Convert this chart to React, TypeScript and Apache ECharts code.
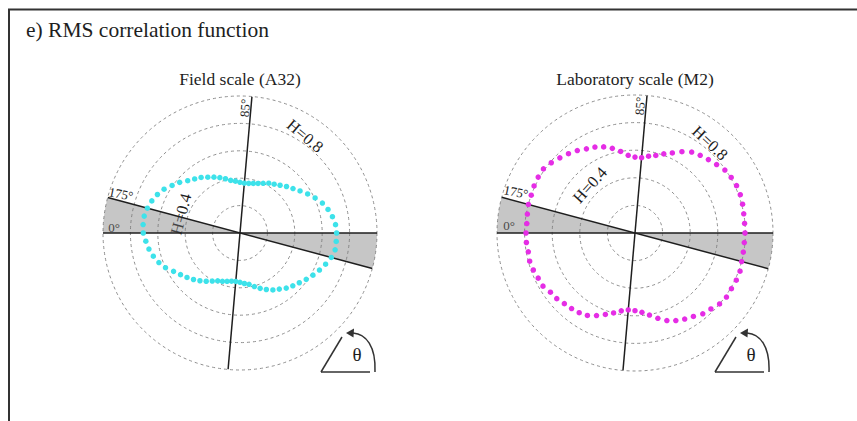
import React, { useEffect, useRef } from "react";
import * as echarts from "echarts";

// ---- data ----
const TITLE = "e) RMS correlation function";
const PANEL_TITLES = ["Field scale (A32)", "Laboratory scale (M2)"];

// direction theta (deg, counter-clockwise from the right)
const ANGLES = [
  0, 5, 10, 15, 20, 25, 30, 35, 40, 45, 50, 55, 60, 65, 70, 75, 80, 85,
  90, 95, 100, 105, 110, 115, 120, 125, 130, 135, 140, 145, 150, 155, 160, 165,
  170, 175, 180, 185, 190, 195, 200, 205, 210, 215, 220, 225, 230, 235, 240, 245,
  250, 255, 260, 265, 270, 275, 280, 285, 290, 295, 300, 305, 310, 315, 320, 325,
  330, 335, 340, 345, 350, 355,
];

// Hurst exponent H(theta), field scale (A32)
const FIELD_H = [
  0.705, 0.70, 0.685, 0.665, 0.64, 0.605, 0.57, 0.535, 0.505, 0.48, 0.455, 0.435,
  0.42, 0.40, 0.385, 0.375, 0.368, 0.365, 0.37, 0.38, 0.39, 0.41, 0.43, 0.45,
  0.47, 0.495, 0.515, 0.54, 0.575, 0.605, 0.64, 0.665, 0.685, 0.70, 0.71, 0.71,
  0.706, 0.69, 0.675, 0.655, 0.63, 0.60, 0.56, 0.53, 0.505, 0.48, 0.455, 0.43,
  0.405, 0.385, 0.375, 0.365, 0.357, 0.355, 0.36, 0.37, 0.38, 0.405, 0.43, 0.455,
  0.48, 0.50, 0.525, 0.545, 0.565, 0.59, 0.615, 0.64, 0.665, 0.69, 0.705, 0.705,
];

// Hurst exponent H(theta), laboratory scale (M2)
const LAB_H = [
  0.797, 0.797, 0.80, 0.807, 0.812, 0.812, 0.805, 0.795, 0.772, 0.752, 0.735, 0.716,
  0.68, 0.64, 0.61, 0.582, 0.565, 0.548, 0.55, 0.565, 0.60, 0.635, 0.664, 0.687,
  0.704, 0.729, 0.75, 0.77, 0.792, 0.81, 0.81, 0.807, 0.80, 0.80, 0.792, 0.787,
  0.79, 0.79, 0.785, 0.79, 0.784, 0.774, 0.77, 0.748, 0.74, 0.724, 0.715, 0.705,
  0.69, 0.66, 0.628, 0.60, 0.573, 0.56, 0.563, 0.577, 0.604, 0.64, 0.675, 0.70,
  0.72, 0.738, 0.764, 0.778, 0.80, 0.809, 0.807, 0.81, 0.81, 0.80, 0.797, 0.795,
];

const PANEL_DATA = [FIELD_H, LAB_H];
const PANEL_COLORS = ["#3de2ea", "#e52de5"];

const RADIUS_MIN = 0;
const RADIUS_MAX = 1;
const RADIUS_STEP = 0.2;

// reference diameters (deg) and shaded double wedge between 0 deg and the 175 deg line
const DIAMETERS = [0, 85, 165];
const WEDGES = [
  [165, 180],
  [345, 360],
];

const LABEL_85 = "85°";
const LABEL_175 = "175°";
const LABEL_0 = "0°";
const LABEL_H04 = "H=0.4";
const LABEL_H08 = "H=0.8";
const LABEL_THETA = "θ";

// ---- layout ----
const W = 857;
const H = 421;
const POLARS = [
  { center: [240, 233], radius: 137 },
  { center: [635, 233], radius: 138 },
];
const FONT = '"Liberation Serif", "Times New Roman", serif';
const INK = "#1e1e1e";

function txt(text: string, x: number, y: number, size: number, rot = 0, align = "center") {
  return {
    type: "text",
    x,
    y,
    rotation: rot,
    silent: true,
    style: {
      text,
      font: `${size}px ${FONT}`,
      fill: INK,
      align,
      verticalAlign: "middle",
      textAlign: align,
      textVerticalAlign: "middle",
    },
  };
}

function thetaIcon(dx: number) {
  const lineStyle = { stroke: "#333", lineWidth: 1.5, fill: "none" };
  return [
    { type: "line", silent: true, shape: { x1: 321 + dx, y1: 372, x2: 370 + dx, y2: 372 }, style: lineStyle },
    { type: "line", silent: true, shape: { x1: 321 + dx, y1: 372, x2: 342 + dx, y2: 337 }, style: lineStyle },
    {
      type: "bezierCurve",
      silent: true,
      shape: { x1: 375 + dx, y1: 372, cpx1: 376 + dx, cpy1: 346, cpx2: 366 + dx, cpy2: 334, x2: 353 + dx, y2: 333 },
      style: lineStyle,
    },
    {
      type: "polygon",
      silent: true,
      shape: { points: [[346 + dx, 333], [354 + dx, 328.5], [353.5 + dx, 337.5]] },
      style: { fill: "#333" },
    },
    txt(LABEL_THETA, 357 + dx, 354, 19),
  ];
}

export default function App() {
  const ref = useRef<HTMLDivElement>(null);

  useEffect(() => {
    if (!ref.current) return;
    const chart = echarts.init(ref.current, undefined, { renderer: "svg" });

    const series: any[] = [];
    POLARS.forEach((_, i) => {
      series.push({
        type: "custom",
        coordinateSystem: "polar",
        polarIndex: i,
        silent: true,
        z: 1,
        data: WEDGES.map((w) => [RADIUS_MAX, w[0], w[1]]),
        renderItem: (params: any, api: any) => {
          const r = api.value(0);
          const a0 = api.value(1);
          const a1 = api.value(2);
          const pts: number[][] = [api.coord([0, a0])];
          for (let a = a0; a <= a1 + 1e-6; a += 0.5) pts.push(api.coord([r, a]));
          return {
            type: "polygon",
            shape: { points: pts },
            style: { fill: "rgba(120,120,120,0.42)", stroke: "none" },
          };
        },
      });
      DIAMETERS.forEach((a) => {
        series.push({
          type: "line",
          coordinateSystem: "polar",
          polarIndex: i,
          silent: true,
          z: 2,
          symbol: "none",
          data: [
            [RADIUS_MAX, a],
            [RADIUS_MAX, a + 180],
          ],
          lineStyle: { color: INK, width: 1.5 },
        });
      });
      series.push({
        type: "scatter",
        coordinateSystem: "polar",
        polarIndex: i,
        z: 3,
        symbolSize: 5.5,
        data: ANGLES.map((a, k) => [PANEL_DATA[i][k], a]),
        itemStyle: { color: PANEL_COLORS[i], opacity: 1 },
      });
    });

    const graphics: any[] = [
      { type: "line", silent: true, shape: { x1: 8, y1: 9.5, x2: W, y2: 9.5 }, style: { stroke: "#333", lineWidth: 2 } },
      { type: "line", silent: true, shape: { x1: 9, y1: 9, x2: 9, y2: H }, style: { stroke: "#333", lineWidth: 2 } },
      txt(TITLE, 26, 30, 21.5, 0, "left"),
      txt(PANEL_TITLES[0], 240, 79, 17.5),
      txt(PANEL_TITLES[1], 635, 79, 17.5),
      // field panel labels
      txt(LABEL_85, 245, 108, 13, (85 * Math.PI) / 180),
      txt(LABEL_175, 121, 194, 13, -0.2),
      txt(LABEL_0, 114, 227, 13),
      txt(LABEL_H04, 181, 214, 16.5, (75 * Math.PI) / 180),
      txt(LABEL_H08, 305, 136, 16.5, (-40 * Math.PI) / 180),
      // lab panel labels
      txt(LABEL_85, 640, 106, 13, (85 * Math.PI) / 180),
      txt(LABEL_175, 516, 192, 13, -0.2),
      txt(LABEL_0, 509, 225, 13),
      txt(LABEL_H04, 590, 185, 16.5, (48 * Math.PI) / 180),
      txt(LABEL_H08, 710, 143, 16.5, (-43 * Math.PI) / 180),
      ...thetaIcon(0),
      ...thetaIcon(394),
    ];

    chart.setOption({
      animation: false,
      backgroundColor: "#fff",
      polar: POLARS.map((p) => ({ center: p.center, radius: p.radius })),
      angleAxis: POLARS.map((_, i) => ({
        polarIndex: i,
        type: "value",
        min: 0,
        max: 360,
        startAngle: 0,
        clockwise: false,
        axisLine: { show: false },
        axisTick: { show: false },
        axisLabel: { show: false },
        splitLine: { show: false },
      })),
      radiusAxis: POLARS.map((_, i) => ({
        polarIndex: i,
        type: "value",
        min: RADIUS_MIN,
        max: RADIUS_MAX,
        interval: RADIUS_STEP,
        axisLine: { show: false },
        axisTick: { show: false },
        axisLabel: { show: false },
        splitLine: { show: true, lineStyle: { color: "#8f8f8f", type: [3, 3], width: 1 } },
      })),
      series,
      graphic: graphics,
    });

    return () => chart.dispose();
  }, []);

  return (
    <div
      ref={ref}
      style={{ position: "fixed", left: 0, top: 0, width: W, height: H, background: "#fff" }}
    />
  );
}
